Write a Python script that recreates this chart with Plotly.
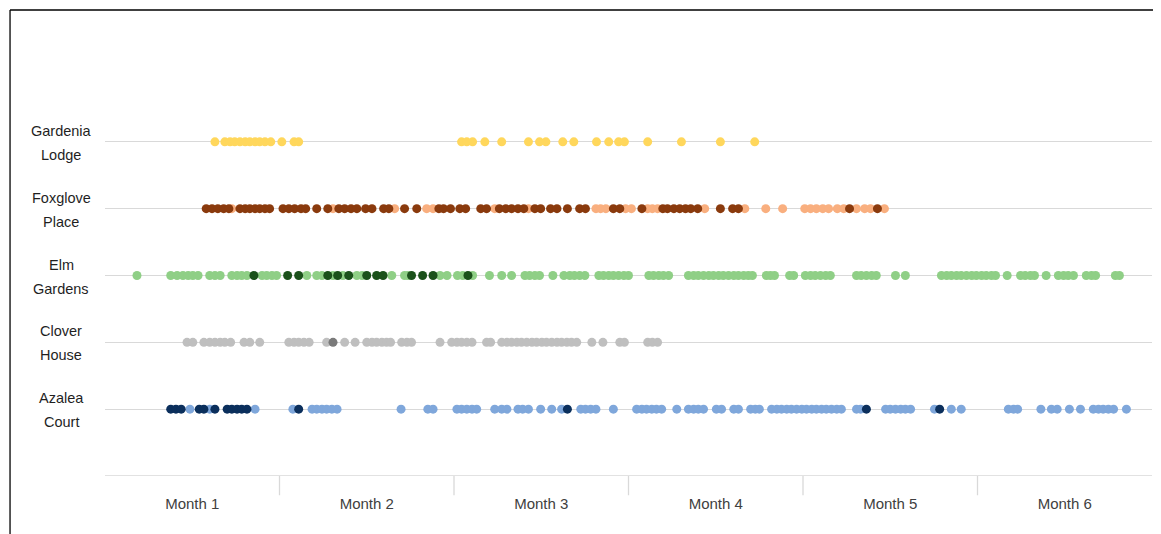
import plotly.graph_objects as go

# ---- data (x in days from start of Month 1; 30 days per month) ----
months = ["Month 1", "Month 2", "Month 3", "Month 4", "Month 5", "Month 6"]
rows = ["Azalea Court", "Clover House", "Elm Gardens", "Foxglove Place", "Gardenia Lodge"]
row_labels = [("Azalea", "Court"), ("Clover", "House"), ("Elm", "Gardens"),
              ("Foxglove", "Place"), ("Gardenia", "Lodge")]

gardenia = [18.9, 20.6, 21.5, 22.3, 23.2, 24.1, 24.9, 25.8, 26.6, 27.5, 28.5, 30.4, 32.5, 33.3,
            61.3, 62.2, 63.2, 65.3, 68.2, 72.8, 74.7, 75.8, 78.7, 80.6, 84.5, 86.6, 88.3, 89.3,
            93.3, 99.1, 105.8, 111.7]

foxglove_light = [21.8, 39.2, 49.8, 55.3, 56.4, 67.0, 72.8, 84.4, 85.2, 86.1, 89.5, 90.5, 93.3,
                  94.1, 95.0, 103.1, 110.0, 113.6, 116.5, 120.3, 121.3, 122.3, 123.4, 124.4,
                  125.9, 127.0, 129.2, 130.6, 131.6, 134.0]
foxglove_dark = [17.4, 18.4, 19.4, 20.4, 21.3, 23.2, 24.1, 24.9, 25.8, 26.6, 27.5, 28.3, 30.6,
                 31.6, 32.6, 33.7, 34.5, 36.4, 38.3, 40.2, 41.2, 42.3, 43.3, 44.8, 45.9, 47.9,
                 48.8, 51.5, 53.6, 57.4, 58.2, 59.4, 61.0, 62.0, 64.6, 65.6, 67.8, 68.9, 69.9,
                 71.0, 72.0, 73.9, 74.9, 76.6, 77.7, 79.5, 81.6, 82.6, 87.4, 88.5, 92.3, 95.9,
                 96.7, 97.8, 98.8, 99.8, 100.7, 101.9, 105.8, 107.9, 108.9, 128.0, 132.8]

elm_light = [5.5, 11.3, 12.4, 13.4, 14.3, 15.1, 16.0, 18.0, 18.9, 19.8, 21.8, 22.7, 23.5, 24.4,
             27.0, 27.8, 28.7, 29.5, 34.7, 36.4, 37.3, 39.2, 40.9, 43.3, 44.2, 49.3, 51.5, 52.1,
             57.6, 58.8, 60.6, 61.5, 63.2, 66.1, 68.2, 69.9, 72.2, 73.0, 73.9, 74.7, 77.0, 78.9,
             79.9, 80.7, 81.6, 82.5, 84.9, 85.7, 86.6, 87.4, 88.3, 89.2, 90.0, 93.5, 94.3, 95.2,
             96.0, 96.9, 100.3, 101.2, 102.0, 102.9, 103.8, 104.6, 105.5, 106.3, 107.2, 108.1,
             108.9, 109.8, 110.6, 111.3, 113.7, 114.4, 115.1, 117.7, 118.4, 120.4, 121.3, 122.1,
             123.0, 123.9, 124.7, 129.2, 130.0, 130.9, 131.8, 132.6, 135.9, 137.6, 143.8, 144.7,
             145.5, 146.4, 147.2, 148.1, 149.0, 149.8, 150.7, 151.5, 152.4, 153.1, 155.1, 157.4,
             158.2, 159.1, 159.8, 161.8, 163.9, 164.8, 165.6, 166.5, 168.7, 169.6, 170.3, 173.7,
             174.4]
elm_dark = [25.6, 31.4, 33.3, 38.3, 40.0, 41.9, 45.0, 46.7, 47.8, 52.7, 54.6, 56.4, 62.4]

clover_light = [14.1, 15.1, 17.0, 18.0, 18.9, 19.8, 20.6, 21.6, 23.9, 24.9, 26.6, 31.6, 32.5,
                33.3, 34.2, 35.1, 38.1, 41.2, 43.0, 45.0, 45.9, 46.7, 47.6, 48.4, 49.1, 51.0,
                51.9, 52.7, 57.6, 59.6, 60.5, 61.3, 62.2, 63.1, 65.6, 66.3, 68.2, 69.1, 69.9,
                70.8, 71.6, 72.5, 73.4, 74.2, 75.1, 75.9, 76.8, 77.7, 78.5, 79.4, 80.2, 81.1,
                83.7, 85.6, 88.5, 89.3, 93.3, 94.1, 95.0]
clover_dark = [39.2]

azalea_light = [14.6, 18.0, 25.8, 32.3, 35.6, 36.4, 37.3, 38.1, 39.0, 39.9, 50.9, 55.5, 56.4,
                60.5, 61.3, 62.2, 63.1, 63.9, 67.0, 68.2, 69.1, 71.0, 71.8, 72.8, 74.9, 76.8,
                78.5, 81.8, 82.6, 83.5, 84.4, 87.4, 91.4, 92.3, 93.1, 94.0, 94.8, 95.7, 98.3,
                100.3, 101.2, 102.0, 102.9, 105.1, 106.0, 108.1, 108.9, 111.0, 111.8, 112.5,
                114.6, 115.5, 116.3, 117.2, 118.0, 118.9, 119.8, 120.6, 121.5, 122.3, 123.2,
                124.0, 124.9, 125.8, 126.6, 129.2, 129.9, 134.2, 135.0, 135.9, 136.8, 137.6,
                138.5, 142.6, 145.5, 147.2, 155.3, 156.2, 156.9, 160.9, 162.7, 163.7, 165.8,
                167.7, 169.9, 170.8, 171.6, 172.5, 173.4, 175.6]
azalea_dark = [11.3, 12.2, 13.1, 16.2, 17.0, 18.9, 21.0, 21.8, 22.7, 23.5, 24.4, 33.3, 79.5,
               130.9, 143.5]

# ---- styling ----
series = [
    (azalea_light, 1, "#7FA7DB"), (azalea_dark, 1, "#0B2F5C"),
    (clover_light, 2, "#BFBFBF"), (clover_dark, 2, "#7A7A7A"),
    (elm_light, 3, "#8FCF86"), (elm_dark, 3, "#1B511B"),
    (foxglove_light, 4, "#F9AF7F"), (foxglove_dark, 4, "#8A3A0D"),
    (gardenia, 5, "#FFD75C"),
]

DAYS_PER_MONTH = 30
GRID = "#D9D9D9"
FONT = "Liberation Sans"

fig = go.Figure()
for xs, row, color in series:
    fig.add_trace(go.Scatter(
        x=xs, y=[row] * len(xs), mode="markers",
        marker=dict(size=9, color=color, line=dict(width=0)),
        showlegend=False, hoverinfo="x",
    ))

n_months = len(months)
fig.update_xaxes(
    range=[0, n_months * DAYS_PER_MONTH],
    tickvals=[DAYS_PER_MONTH * (i + 0.5) for i in range(n_months)],
    ticktext=months, ticks="", showgrid=False, zeroline=False,
    showline=False, tickfont=dict(family=FONT, size=15, color="#404040"),
    ticklabelstandoff=17, fixedrange=True,
)
fig.update_yaxes(
    range=[0, len(rows) + 1], tickvals=list(range(0, len(rows) + 2)),
    showticklabels=False, showgrid=True, gridcolor=GRID, gridwidth=1.3,
    zeroline=False, showline=False, fixedrange=True,
)

shapes = []
# bottom axis line
shapes.append(dict(type="line", xref="paper", yref="y", x0=0, x1=1, y0=0, y1=0,
                   line=dict(color=GRID, width=1.3), layer="below"))
# month separators
for i in range(1, n_months):
    shapes.append(dict(type="line", xref="x", yref="paper",
                       x0=i * DAYS_PER_MONTH, x1=i * DAYS_PER_MONTH, y0=0, y1=-0.048,
                       line=dict(color=GRID, width=1.3)))
# outer chart border (top and left)
shapes.append(dict(type="line", xref="paper", yref="paper", x0=-0.0907, x1=1.02,
                   y0=1.1621, y1=1.1621, line=dict(color="#000000", width=1.3)))
shapes.append(dict(type="line", xref="paper", yref="paper", x0=-0.0907, x1=-0.0907,
                   y0=-0.2, y1=1.1621, line=dict(color="#000000", width=1.3)))

annotations = []
for i, (l1, l2) in enumerate(row_labels):
    for txt, shift in ((l1, 11), (l2, -13)):
        annotations.append(dict(
            text=txt, xref="paper", yref="y", x=-0.042, y=i + 1, yshift=shift,
            xanchor="center", yanchor="middle", showarrow=False,
            font=dict(family=FONT, size=14.5, color="#1F1F1F"),
        ))

# page body has an 8px margin, so the figure is sized/offset to compensate
fig.update_layout(
    width=1153, height=526,
    margin=dict(l=97, r=9, t=67, b=58),
    paper_bgcolor="white", plot_bgcolor="white",
    shapes=shapes, annotations=annotations,
)

fig.write_html("out.html")
